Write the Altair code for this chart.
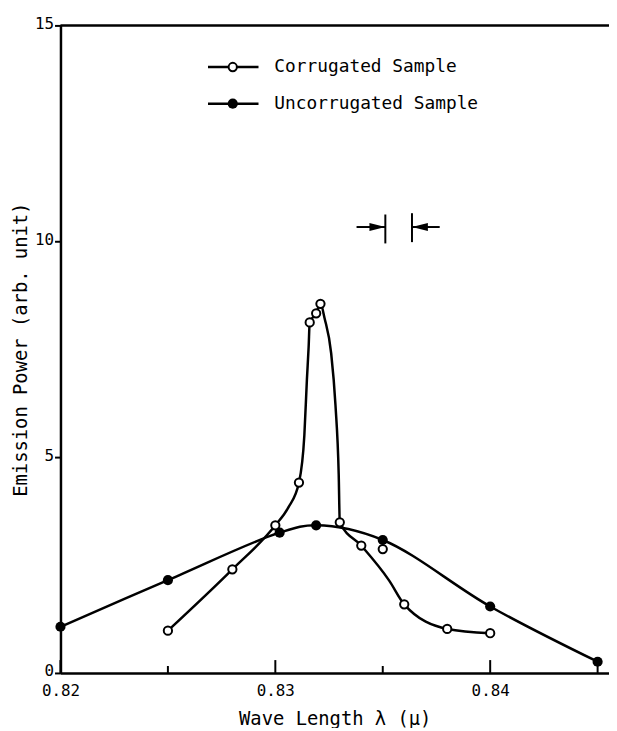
import altair as alt
import pandas as pd

# ---- data ----
corr_x = [0.825, 0.828, 0.830, 0.8311, 0.8316, 0.8319, 0.8321, 0.8330, 0.8340, 0.8350, 0.8360, 0.8380, 0.8400]
corr_y = [0.98, 2.40, 3.42, 4.41, 8.12, 8.33, 8.55, 3.49, 2.95, 2.87, 1.59, 1.02, 0.92]

# hand-drawn smooth curve of the corrugated sample (traced)
corr_curve_x = [0.825, 0.828, 0.830, 0.8306, 0.8311, 0.83135, 0.83147, 0.83155, 0.8316, 0.8319, 0.8321,
                0.8323, 0.8326, 0.8328, 0.83295, 0.8330, 0.8340, 0.8353, 0.8360, 0.8380, 0.8400]
corr_curve_y = [0.98, 2.40, 3.42, 3.83, 4.41, 5.5, 6.8, 7.55, 8.12, 8.33, 8.55,
                8.2, 7.4, 6.2, 4.6, 3.49, 2.95, 2.14, 1.59, 1.02, 0.92]

unc_x = [0.820, 0.825, 0.8302, 0.8319, 0.835, 0.840, 0.845]
unc_y = [1.07, 2.15, 3.25, 3.42, 3.08, 1.54, 0.26]

x_major = [0.82, 0.83, 0.84]
x_minor = [0.825, 0.835, 0.845]
y_ticks = [0, 5, 10, 15]

# resolution marker (arrows and bars)
bar_x = [0.83512, 0.83636]
bar_y0 = [9.95, 9.98]
bar_y1 = [10.62, 10.65]
shaft_x0 = [0.83378, 0.83636]
shaft_x1 = [0.83512, 0.83765]
shaft_y = [10.33, 10.33]
head_right_x = [0.83475]
head_left_x = [0.83673]
head_y = [10.33]

legend_labels = ["Corrugated Sample", "Uncorrugated Sample"]

# ---- layout ----
W, H = 554, 654
FONT = "DejaVu Sans Mono"

xs = alt.Scale(domain=[0.82, 0.82 + W / 21700.0], nice=False, zero=False)
ys = alt.Scale(domain=[0, 15], nice=False, zero=False)

xaxis = alt.Axis(values=x_major, format=".2f", tickSize=0, labelFlush=False,
                 labelFont=FONT, labelFontSize=16, labelColor="black", labelPadding=10,
                 domainColor="black", domainWidth=2.5, grid=False,
                 title="Wave Length λ (μ)", titleFont=FONT, titleFontSize=19,
                 titleFontWeight="normal", titleColor="black", titlePadding=11)
yaxis = alt.Axis(values=y_ticks, tickSize=6, tickWidth=2, tickColor="black",
                 labelFont=FONT, labelFontSize=16, labelColor="black", labelPadding=1,
                 labelFlush=False, labelOffset=-2,
                 domainColor="black", domainWidth=2.5, grid=False,
                 title="Emission Power (arb. unit)", titleFont=FONT, titleFontSize=19,
                 titleFontWeight="normal", titleColor="black", titlePadding=4)

X = alt.X("x:Q", scale=xs, axis=xaxis)
Y = alt.Y("y:Q", scale=ys, axis=yaxis)

df_corr = pd.DataFrame({"x": corr_x, "y": corr_y})
df_corr_curve = pd.DataFrame({"x": corr_curve_x, "y": corr_curve_y})
df_unc = pd.DataFrame({"x": unc_x, "y": unc_y})
df_major = pd.DataFrame({"x": x_major})
df_minor = pd.DataFrame({"x": x_minor})
df_bars = pd.DataFrame({"x": bar_x, "y": bar_y0, "y2": bar_y1})
df_shafts = pd.DataFrame({"x": shaft_x0, "x2": shaft_x1, "y": shaft_y})
df_hr = pd.DataFrame({"x": head_right_x, "y": head_y})
df_hl = pd.DataFrame({"x": head_left_x, "y": head_y})
one = pd.DataFrame({"a": [0]})

unc_line = alt.Chart(df_unc).mark_line(interpolate="catmull-rom", color="black", strokeWidth=2.5).encode(x=X, y=Y)
corr_line = alt.Chart(df_corr_curve).mark_line(interpolate="monotone", color="black", strokeWidth=2.5).encode(x=X, y=Y)
unc_pts = alt.Chart(df_unc).mark_point(shape="circle", filled=True, color="black", size=105, opacity=1).encode(x=X, y=Y)
corr_pts = alt.Chart(df_corr).mark_point(shape="circle", filled=True, fill="white", stroke="black",
                                         strokeWidth=2, size=70, opacity=1).encode(x=X, y=Y)

major_ticks = alt.Chart(df_major).mark_rule(color="black", strokeWidth=2).encode(
    x=X, y=alt.value(H), y2=alt.value(H - 13))
minor_ticks = alt.Chart(df_minor).mark_rule(color="black", strokeWidth=2).encode(
    x=X, y=alt.value(H), y2=alt.value(H - 7))

top_frame = alt.Chart(one).mark_rule(color="black", strokeWidth=2.5).encode(
    x=alt.value(0), x2=alt.value(W), y=alt.value(0))

bars = alt.Chart(df_bars).mark_rule(color="black", strokeWidth=2).encode(x=X, y=Y, y2="y2:Q")
shafts = alt.Chart(df_shafts).mark_rule(color="black", strokeWidth=2).encode(x=X, x2="x2:Q", y=Y)
head_r = alt.Chart(df_hr).mark_point(shape="M -1 -0.5 L 1 0 L -1 0.5 Z", filled=True, color="black",
                                     size=256, opacity=1).encode(x=X, y=Y)
head_l = alt.Chart(df_hl).mark_point(shape="M 1 -0.5 L -1 0 L 1 0.5 Z", filled=True, color="black",
                                     size=256, opacity=1).encode(x=X, y=Y)

# legend (drawn by hand, as in the figure)
leg = []
for i, (lab, ly) in enumerate(zip(legend_labels, [42, 79])):
    leg.append(alt.Chart(one).mark_rule(color="black", strokeWidth=2.5).encode(
        x=alt.value(149), x2=alt.value(200), y=alt.value(ly)))
    if i == 0:
        leg.append(alt.Chart(one).mark_point(shape="circle", filled=True, fill="white", stroke="black",
                                             strokeWidth=2, size=70, opacity=1).encode(
            x=alt.value(174), y=alt.value(ly)))
    else:
        leg.append(alt.Chart(one).mark_point(shape="circle", filled=True, color="black",
                                             size=105, opacity=1).encode(
            x=alt.value(174), y=alt.value(ly)))
    leg.append(alt.Chart(one).mark_text(align="left", baseline="middle", font=FONT, fontSize=18,
                                        color="black").encode(
        x=alt.value(216), y=alt.value(ly), text=alt.value(lab)))

chart = alt.layer(
    unc_line, corr_line, major_ticks, minor_ticks, top_frame,
    bars, shafts, head_r, head_l, unc_pts, corr_pts, *leg
).properties(
    width=W, height=H,
    autosize=alt.AutoSizeParams(type="none"),
    padding={"left": 53, "top": 14, "right": 0, "bottom": 52},
    background="white",
).configure_view(stroke=None)

chart.save("out.html", embed_options={"renderer": "svg", "actions": False})
